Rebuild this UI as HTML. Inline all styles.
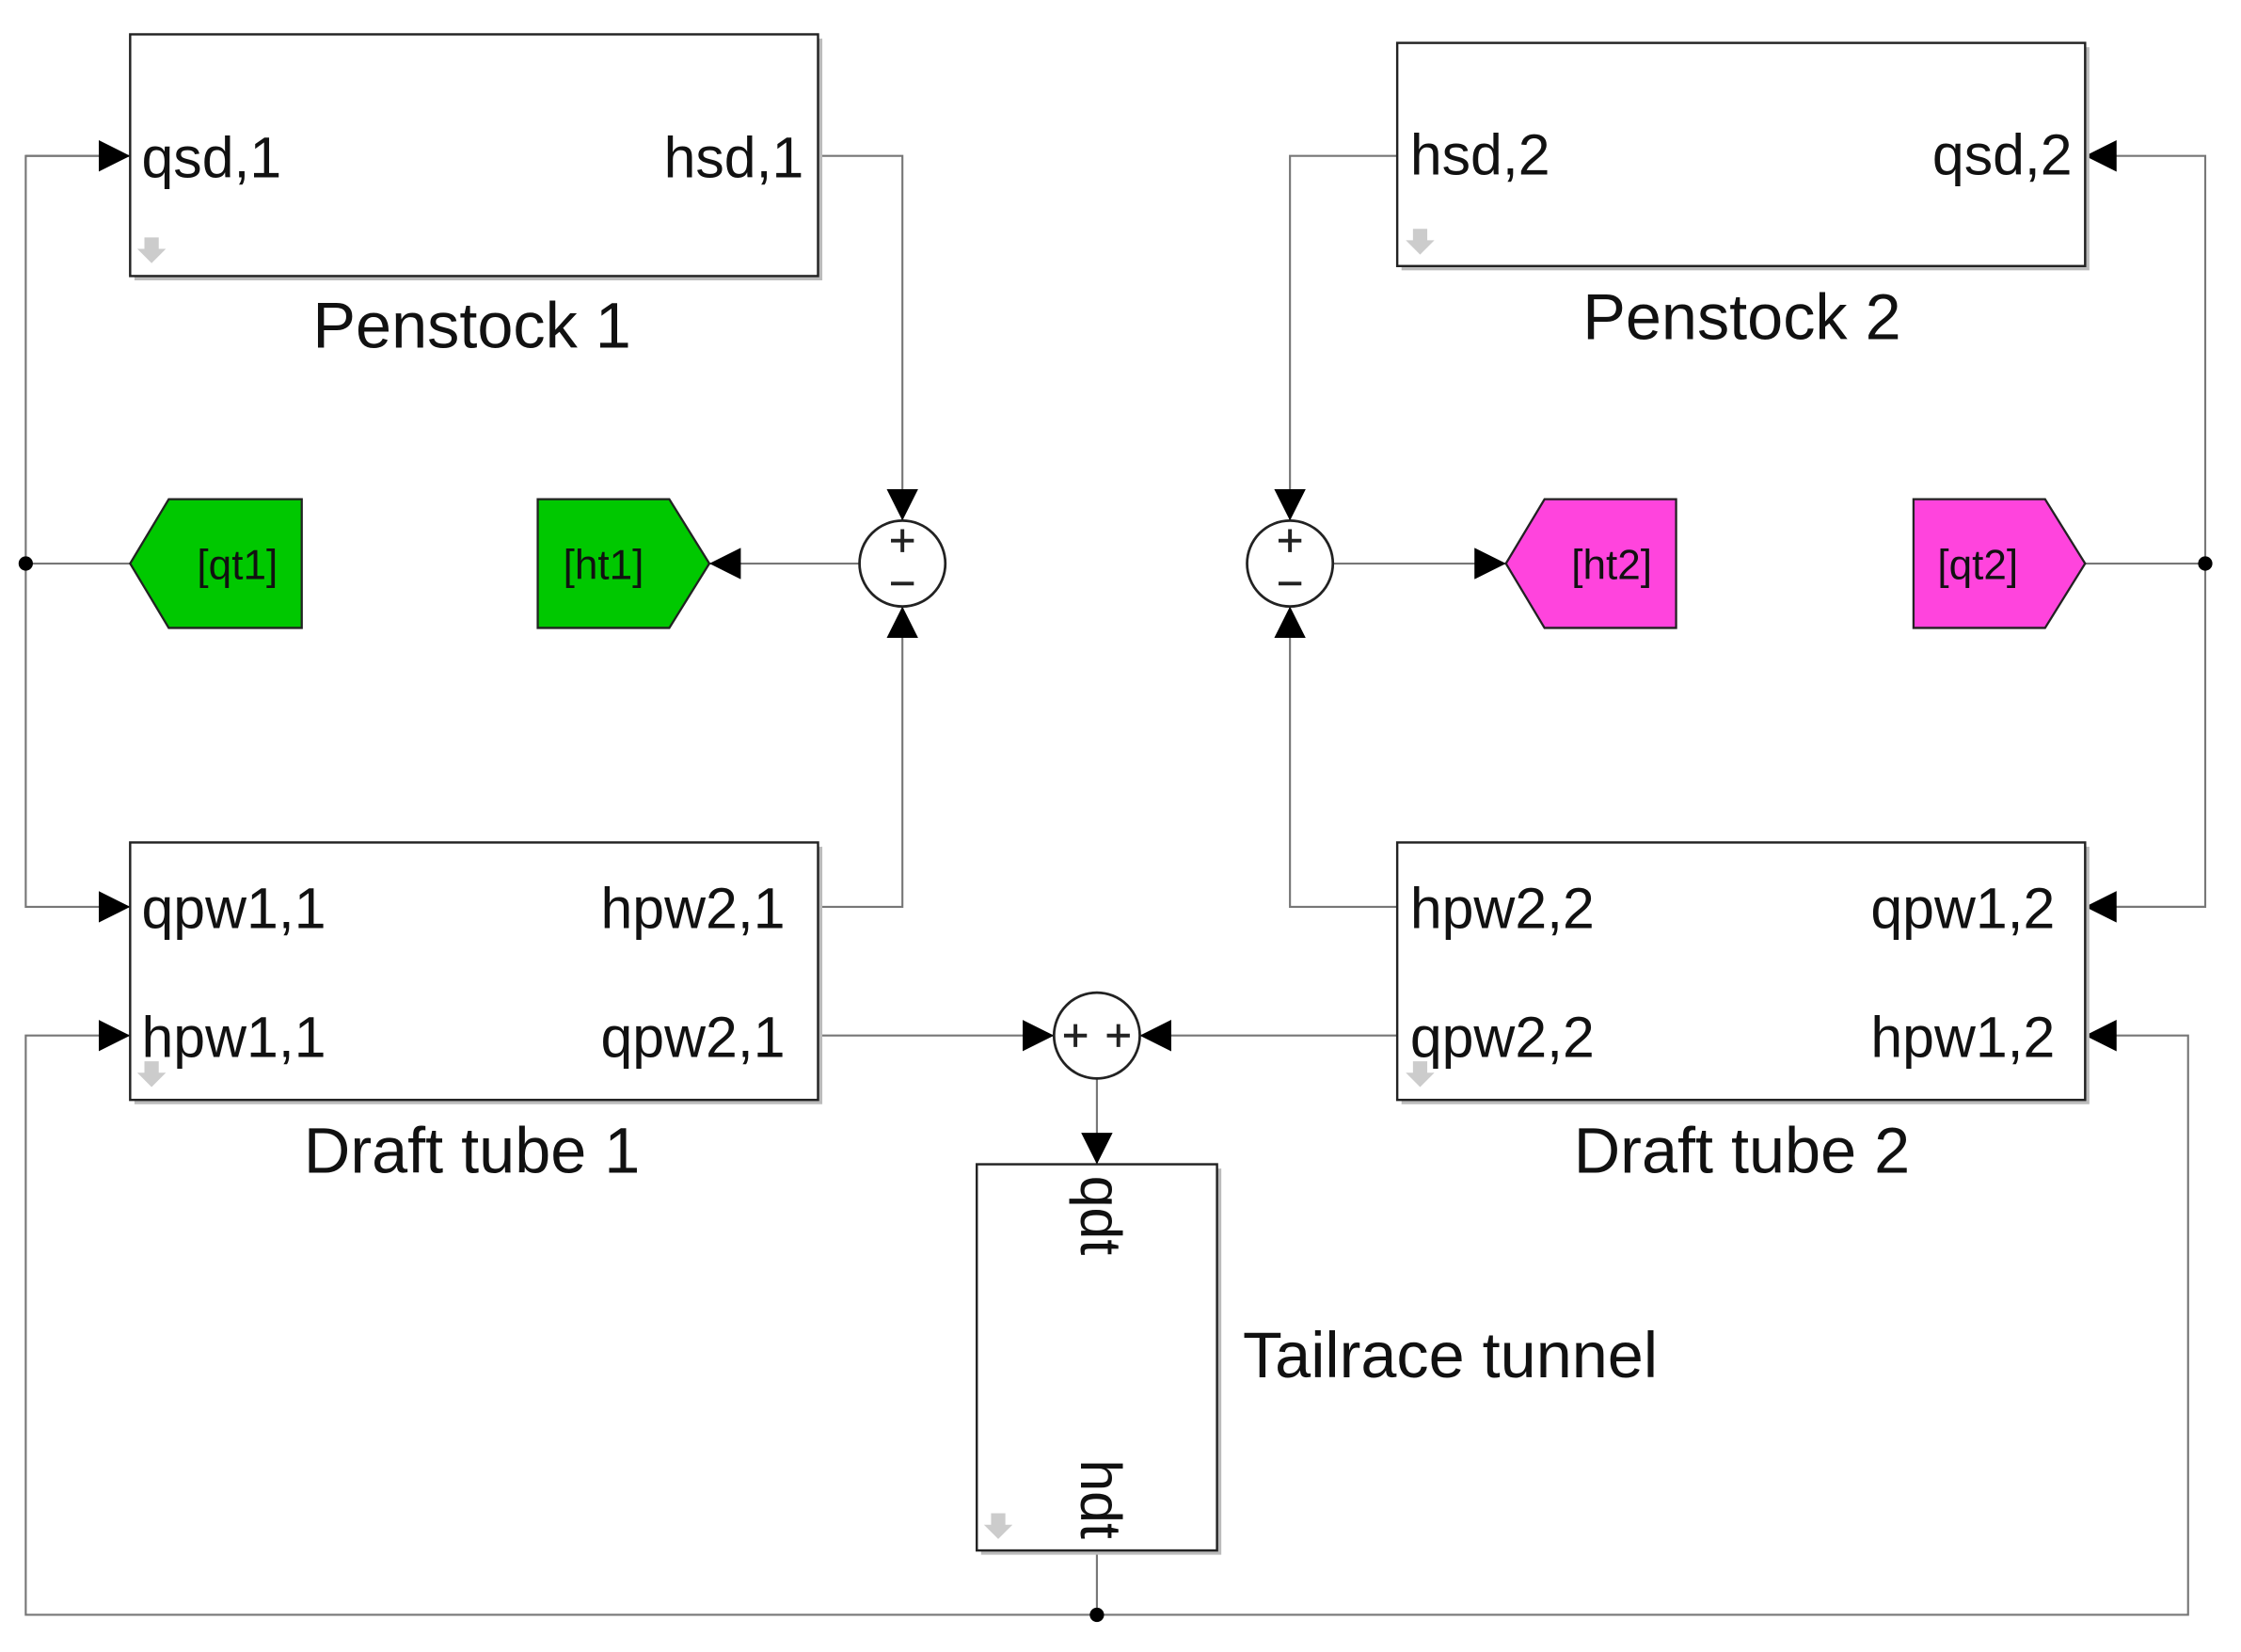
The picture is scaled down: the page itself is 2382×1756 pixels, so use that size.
<!DOCTYPE html>
<html><head><meta charset="utf-8"><style>
html,body{margin:0;padding:0;background:#fff;}
svg{display:block;}
text{font-family:"Liberation Sans",Arial,sans-serif;fill:#111;}
</style></head><body>
<svg width="2382" height="1756" viewBox="0 0 1567 1155" preserveAspectRatio="none" xmlns="http://www.w3.org/2000/svg">
<defs>
<marker id="a" viewBox="0 0 10 10" refX="10" refY="5" markerWidth="22" markerHeight="22" markerUnits="userSpaceOnUse" orient="auto"><path d="M0,0 L10,5 L0,10 z" fill="#000"/></marker>
<g id="ga"><path d="M-5,-10 h10 v8 h5 l-10,10 l-10,-10 h5z" fill="#ccc"/></g>
</defs>
<g fill="none" stroke="#777" stroke-width="1.4">
<polyline points="91,109 18,109 18,634 91,634" marker-end="url(#a)"/>
<path d="M18,109 H91" marker-end="url(#a)"/>
<path d="M18,394 H91"/>
<polyline points="572,109 631,109 631,364" marker-end="url(#a)"/>
<polyline points="572,634 631,634 631,424" marker-end="url(#a)"/>
<path d="M601,394 H496" marker-end="url(#a)"/>
<polyline points="1458,634 1542,634 1542,109 1458,109" marker-end="url(#a)"/>
<path d="M1542,634 H1458" marker-end="url(#a)"/>
<path d="M1458,394 H1542"/>
<polyline points="977,109 902,109 902,364" marker-end="url(#a)"/>
<polyline points="977,634 902,634 902,424" marker-end="url(#a)"/>
<path d="M932,394 H1053" marker-end="url(#a)"/>
<path d="M572,724 H737" marker-end="url(#a)"/>
<path d="M977,724 H797" marker-end="url(#a)"/>
<path d="M767,754 V814" marker-end="url(#a)"/>
<path d="M767,1084 V1129"/>
<polyline points="767,1129 18,1129 18,724 91,724" marker-end="url(#a)"/>
<polyline points="767,1129 1530,1129 1530,724 1458,724" marker-end="url(#a)"/>
</g>
<g fill="#000"><circle cx="18" cy="394" r="5"/><circle cx="1542" cy="394" r="5"/><circle cx="767" cy="1129" r="5"/></g>
<g fill="#fff" stroke="#222" stroke-width="1.6">
<rect x="94" y="27" width="481" height="169" fill="#bbb" stroke="none"/>
<rect x="91" y="24" width="481" height="169"/>
<rect x="980" y="33" width="481" height="156" fill="#bbb" stroke="none"/>
<rect x="977" y="30" width="481" height="156"/>
<rect x="94" y="592" width="481" height="180" fill="#bbb" stroke="none"/>
<rect x="91" y="589" width="481" height="180"/>
<rect x="980" y="592" width="481" height="180" fill="#bbb" stroke="none"/>
<rect x="977" y="589" width="481" height="180"/>
<rect x="686" y="817" width="168" height="270" fill="#bbb" stroke="none"/>
<rect x="683" y="814" width="168" height="270"/>
</g>
<use href="#ga" x="106" y="176"/><use href="#ga" x="993" y="170"/><use href="#ga" x="106" y="752"/><use href="#ga" x="993" y="752"/><use href="#ga" x="698" y="1068"/>
<g fill="#fff" stroke="#222" stroke-width="1.8">
<circle cx="631" cy="394" r="30"/><circle cx="902" cy="394" r="30"/><circle cx="767" cy="724" r="30"/>
</g>
<g stroke="#222" stroke-width="2.6">
<path d="M623,378 h16 M631,370 v16 M623,408 h16"/>
<path d="M894,378 h16 M902,370 v16 M894,408 h16"/>
<path d="M744,724 h16 M752,716 v16 M774,724 h16 M782,716 v16"/>
</g>
<g stroke="#222" stroke-width="1.5">
<polygon points="91,394 118,349 211,349 211,439 118,439" fill="#00c800"/>
<polygon points="376,349 468,349 496,394 468,439 376,439" fill="#00c800"/>
<polygon points="1053,394 1080,349 1172,349 1172,439 1080,439" fill="#ff44dd"/>
<polygon points="1338,349 1430,349 1458,394 1430,439 1338,439" fill="#ff44dd"/>
</g>
<g font-size="29">
<text x="166" y="405" text-anchor="middle">[qt1]</text>
<text x="422" y="405" text-anchor="middle">[ht1]</text>
<text x="1127" y="405" text-anchor="middle">[ht2]</text>
<text x="1383" y="405" text-anchor="middle">[qt2]</text>
</g>
<g font-size="40">
<text x="99" y="124">qsd,1</text><text x="562" y="124" text-anchor="end">hsd,1</text>
<text x="986" y="122">hsd,2</text><text x="1449" y="122" text-anchor="end">qsd,2</text>
<text x="99" y="649">qpw1,1</text><text x="549" y="649" text-anchor="end">hpw2,1</text>
<text x="99" y="739">hpw1,1</text><text x="549" y="739" text-anchor="end">qpw2,1</text>
<text x="986" y="649">hpw2,2</text><text x="1437" y="649" text-anchor="end">qpw1,2</text>
<text x="986" y="739">qpw2,2</text><text x="1437" y="739" text-anchor="end">hpw1,2</text>
<text transform="translate(756,822) rotate(90)">qdt</text>
<text transform="translate(756,1076) rotate(90)" text-anchor="end">hdt</text>
</g>
<g font-size="45">
<text x="330" y="243" text-anchor="middle">Penstock 1</text>
<text x="1218" y="237" text-anchor="middle">Penstock 2</text>
<text x="330" y="820" text-anchor="middle">Draft tube 1</text>
<text x="1218" y="820" text-anchor="middle">Draft tube 2</text>
<text x="869" y="963">Tailrace tunnel</text>
</g>
</svg>
</body></html>
